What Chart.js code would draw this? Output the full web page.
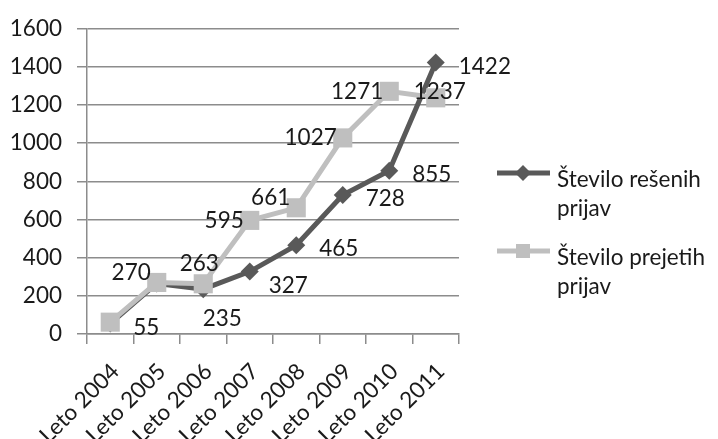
<!DOCTYPE html>
<html>
<head>
<meta charset="utf-8">
<script src="https://cdn.jsdelivr.net/npm/chart.js@4"></script>
<style>
  body { margin: 0; background: #fff; }
</style>
</head>
<body>
<canvas id="myLineChart" width="718" height="439"></canvas>
<script>
// ============================= DATA
let years = ["Leto 2004", "Leto 2005", "Leto 2006", "Leto 2007", "Leto 2008", "Leto 2009", "Leto 2010", "Leto 2011"];
let resenih = [55, 265, 235, 327, 465, 728, 855, 1422];     // Število rešenih prijav
let prejetih = [62, 270, 263, 595, 661, 1027, 1271, 1237];  // Število prejetih prijav
let seriesNames = [["Število rešenih", "prijav"], ["Število prejetih", "prijav"]];
let yMin = 0, yMax = 1600, yStep = 200;

// where each value label sits (Excel had a few nudged by hand)
let resenihLabelPos = ["right", "none", "below", "rightLow", "right", "right", "right", "right"];
let prejetihLabelPos = ["none", "leftUp", "above", "left", "leftUp", "left", "left", "center"];

let darkGray = '#595959';
let lightGray = '#bfbfbf';
let gridGray = '#8c8c8c';
let textColor = '#1a1a1a';
let fontSize = 22.5;

Chart.defaults.font.family = 'Lato';
Chart.defaults.font.size = fontSize;
Chart.defaults.color = textColor;

// ============================= VALUE LABELS
let valueLabels = {
    id: 'valueLabels',
    afterDatasetsDraw(chart) {
        let ctx = chart.ctx;
        ctx.save();
        ctx.font = fontSize + 'px Lato';
        ctx.fillStyle = textColor;
        ctx.textBaseline = 'middle';
        chart.data.datasets.forEach((ds, i) => {
            let meta = chart.getDatasetMeta(i);
            meta.data.forEach((pt, j) => {
                let pos = ds.labelPos[j];
                let txt = String(ds.data[j]);
                let x = pt.x, y = pt.y;
                if (pos === 'none') return;
                if (pos === 'right') { ctx.textAlign = 'left'; x += 23; y += 4; }
                else if (pos === 'rightLow') { ctx.textAlign = 'left'; x += 19; y += 14; }
                else if (pos === 'below') { ctx.textAlign = 'center'; x += 19; y += 30; }
                else if (pos === 'left') { ctx.textAlign = 'right'; x -= 6; }
                else if (pos === 'leftUp') { ctx.textAlign = 'right'; x -= 6; y -= 10; }
                else if (pos === 'above') { ctx.textAlign = 'center'; x -= 4; y -= 20; }
                else if (pos === 'center') { ctx.textAlign = 'center'; x += 4; y -= 6; }
                ctx.fillText(txt, x, y);
            });
        });
        ctx.restore();
    }
};

// ============================= LEGEND (two-line labels)
let sideLegend = {
    id: 'sideLegend',
    afterDraw(chart) {
        let ctx = chart.ctx;
        ctx.save();
        let tops = [173, 251];
        chart.data.datasets.forEach((ds, i) => {
            let y = tops[i];
            ctx.strokeStyle = ds.borderColor;
            ctx.lineWidth = 5;
            ctx.beginPath();
            ctx.moveTo(497, y);
            ctx.lineTo(550, y);
            ctx.stroke();
            ctx.fillStyle = ds.borderColor;
            ctx.beginPath();
            if (ds.pointStyle === 'rectRot') {
                ctx.moveTo(523, y - 8); ctx.lineTo(531, y); ctx.lineTo(523, y + 8); ctx.lineTo(515, y);
            } else {
                ctx.rect(516, y - 7, 14, 14);
            }
            ctx.fill();
            ctx.fillStyle = textColor;
            ctx.font = fontSize + 'px Lato';
            ctx.textAlign = 'left';
            ctx.textBaseline = 'alphabetic';
            seriesNames[i].forEach((line, k) => {
                ctx.fillText(line, 557, y + 14 + k * 29);
            });
        });
        ctx.restore();
    }
};

// ============================= LINE
let ctx = document.querySelector("#myLineChart").getContext('2d');
let myLineChart = new Chart(ctx, {
    type: 'line',
    data: {
        labels: years,
        datasets: [{
            label: seriesNames[0].join(' '),
            data: resenih,
            labelPos: resenihLabelPos,
            borderColor: darkGray,
            backgroundColor: darkGray,
            borderWidth: 5,
            pointStyle: 'rectRot',
            pointRadius: 9,
            pointBorderWidth: 0,
            order: 1,
            clip: false,
        }, {
            label: seriesNames[1].join(' '),
            data: prejetih,
            labelPos: prejetihLabelPos,
            borderColor: lightGray,
            backgroundColor: lightGray,
            borderWidth: 5,
            pointStyle: 'rect',
            pointRadius: 13.5,
            pointBorderWidth: 0,
            order: 0,
            clip: false,
        }]
    },
    options: {
        responsive: false,
        animation: false,
        layout: {
            padding: { left: 0, top: 24, right: 259, bottom: 0 }
        },
        plugins: {
            legend: { display: false },
            tooltip: { enabled: false },
        },
        scales: {
            x: {
                offset: true,
                grid: { offset: true, drawOnChartArea: false, tickLength: 10, color: gridGray, lineWidth: 1.5 },
                border: { color: gridGray, width: 1.5 },
                ticks: { minRotation: 45, maxRotation: 45, padding: 14, labelOffset: 5, color: textColor },
                afterFit(scale) { scale.height = 105; },
            },
            y: {
                min: yMin,
                max: yMax,
                ticks: { stepSize: yStep, padding: 15, color: textColor, callback: (v) => String(v) },
                grid: { tickLength: 10, color: gridGray, lineWidth: 1.5 },
                border: { color: gridGray, width: 1.5 },
                afterFit(scale) { scale.width = 87; },
            }
        }
    },
    plugins: [valueLabels, sideLegend]
});
</script>
</body>
</html>
